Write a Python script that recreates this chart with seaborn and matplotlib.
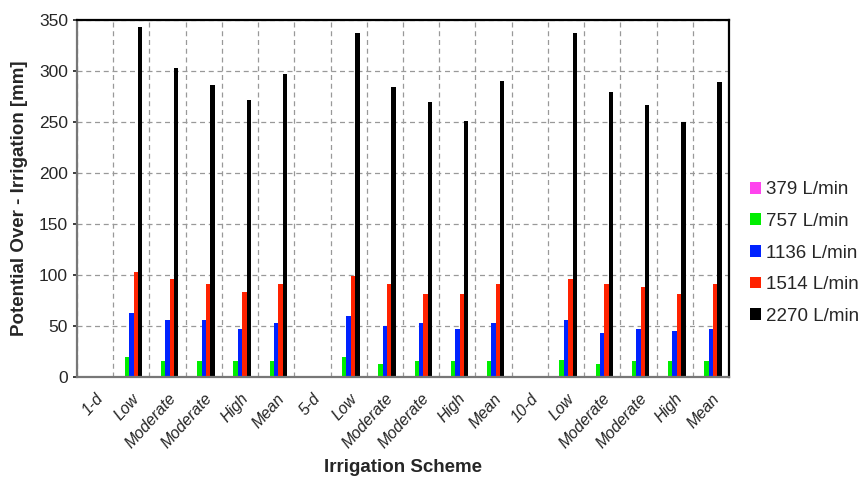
import numpy as np
import pandas as pd
import matplotlib
matplotlib.use("Agg")
import matplotlib.pyplot as plt
import seaborn as sns

categories = ["1-d", "Low", "Moderate", "Moderate", "High", "Mean",
              "5-d", "Low", "Moderate", "Moderate", "High", "Mean",
              "10-d", "Low", "Moderate", "Moderate", "High", "Mean"]
series = ["379 L/min", "757 L/min", "1136 L/min", "1514 L/min", "2270 L/min"]

v379 = [0, 0.5, 0.5, 0.5, 0.5, 0.5, 0, 0.5, 0.5, 0.5, 0.5, 0.5, 0, 0.5, 0.5, 0.5, 0.5, 0.5]
v757 = [0, 19.6, 15.4, 15.4, 15.4, 15.4, 0, 19.6, 12.4, 15.4, 15.4, 15.4, 0, 17.0, 12.4, 15.4, 15.4, 15.4]
v1136 = [0, 63.2, 55.7, 55.7, 47.5, 53.0, 0, 60.2, 50.4, 53.0, 47.5, 53.0, 0, 55.7, 43.2, 47.5, 44.9, 47.5]
v1514 = [0, 103.4, 96.3, 91.0, 83.8, 91.0, 0, 99.2, 91.0, 80.9, 80.9, 91.0, 0, 96.3, 91.0, 88.1, 80.9, 91.0]
v2270 = [0, 342.8, 302.5, 286.2, 272.0, 297.0, 0, 337.2, 284.5, 269.2, 251.2, 289.8, 0, 337.2, 279.0, 266.5, 250.2, 289.1]

colors = ["#ff44ee", "#00ee00", "#0022ff", "#ff2200", "#000000"]

keys = [f"c{i}" for i in range(len(categories))]
rows = []
for s, vals in zip(series, [v379, v757, v1136, v1514, v2270]):
    for k, v in zip(keys, vals):
        rows.append({"cat": k, "series": s, "value": v})
df = pd.DataFrame(rows)

sns.set_theme(style="white")
plt.rcParams['font.family'] = ['Liberation Sans', 'DejaVu Sans']

fig = plt.figure(figsize=(8.65, 4.8), dpi=100)
ax = fig.add_axes([77/865, 1 - 377/480, (729-77)/865, (377-20)/480])

sns.barplot(data=df, x="cat", y="value", hue="series", order=keys,
            hue_order=series, palette=colors, width=0.6, gap=0,
            saturation=1, ax=ax, legend=True, linewidth=0)

ax.set_xlim(-0.5, len(categories) - 0.5)
ax.set_ylim(0, 350)
ax.set_yticks(np.arange(0, 351, 50))
ax.set_xticks(range(len(categories)))
ax.set_xticklabels(categories, rotation=48, ha="right", rotation_mode="anchor",
                   fontstyle="italic", fontsize=11.5)
ax.tick_params(axis="x", length=0, pad=10)
ax.tick_params(axis="y", labelsize=12.5, length=3, left=True)
ax.set_xticks(np.arange(-0.5, len(categories), 1), minor=True)
ax.grid(axis="y", which="major", linestyle=(0, (4, 3)), color="#999999", linewidth=0.9)
ax.grid(axis="x", which="minor", linestyle=(0, (4, 3)), color="#999999", linewidth=0.9)
ax.grid(axis="x", which="major", visible=False)
ax.set_axisbelow(True)

for side in ["top", "right"]:
    ax.spines[side].set_color("black")
    ax.spines[side].set_linewidth(1.6)
for side in ["left", "bottom"]:
    ax.spines[side].set_color("#777777")
    ax.spines[side].set_linewidth(1.6)

ax.set_xlabel("Irrigation Scheme", fontsize=13.5, fontweight="bold")
ax.xaxis.set_label_coords(0.5, (377 - 468) / 357)
ax.xaxis.label.set_va("center")
ax.set_ylabel("Potential Over - Irrigation [mm]", fontsize=13.5, fontweight="bold", labelpad=8)

handles, labels = ax.get_legend_handles_labels()
ax.legend(handles, labels, loc="center left", bbox_to_anchor=(1.02, (377 - 253) / 357),
          frameon=False, fontsize=13.5, handlelength=0.6, handleheight=0.6,
          handletextpad=0.3, labelspacing=0.78, borderaxespad=0)

fig.savefig("out.png", dpi=100)
